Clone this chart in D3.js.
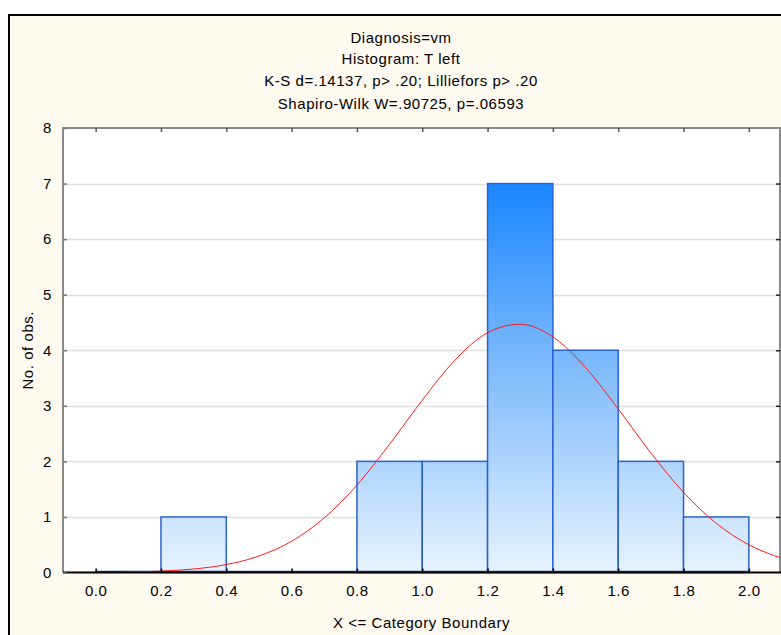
<!DOCTYPE html>
<html>
<head>
<meta charset="utf-8">
<script src="https://cdn.jsdelivr.net/npm/d3@7"></script>
<style>
  html, body { margin: 0; padding: 0; background: #ffffff; }
  svg { display: block; font-family: "Liberation Sans", Arial, sans-serif; }
  svg text { letter-spacing: 0.55px; }
</style>
</head>
<body>
<svg id="chart" width="781" height="635"></svg>
<script>
// Histogram bins (upper category boundaries) and counts
const binStarts = [0.0, 0.2, 0.4, 0.6, 0.8, 1.0, 1.2, 1.4, 1.6, 1.8];
const binWidth = 0.2;
const counts = [0, 1, 0, 0, 2, 2, 7, 4, 2, 1];

// Fitted normal curve, expected counts per bin
const curveX = [-0.1, 0.0, 0.1, 0.2, 0.3, 0.4, 0.5, 0.6, 0.7, 0.8, 0.9, 1.0, 1.1,
                1.2, 1.3, 1.4, 1.5, 1.6, 1.7, 1.8, 1.9, 2.0, 2.1];
const curveY = [0.001, 0.003, 0.009, 0.025, 0.063, 0.143, 0.296, 0.563, 0.983, 1.573,
                2.308, 3.101, 3.821, 4.315, 4.468, 4.241, 3.690, 2.944, 2.152, 1.443,
                0.886, 0.499, 0.257];

const xTicks = [0.0, 0.2, 0.4, 0.6, 0.8, 1.0, 1.2, 1.4, 1.6, 1.8, 2.0];
const yTicks = [0, 1, 2, 3, 4, 5, 6, 7, 8];

const titleLines = [
  "Diagnosis=vm",
  "Histogram: T left",
  "K-S d=.14137, p> .20; Lilliefors p> .20",
  "Shapiro-Wilk W=.90725, p=.06593"
];
const xLabel = "X <= Category Boundary";
const yLabel = "No. of obs.";

const svg = d3.select("#chart");
const W = 781, H = 635;
const plot = { left: 63, right: 780, top: 128, bottom: 572.5 };
const fontSize = 15;
const titleCenter = 401;

// Outer panel
svg.append("rect")
  .attr("x", 9).attr("y", 15)
  .attr("width", W + 20).attr("height", H + 20)
  .attr("fill", "#fefaf0")
  .attr("stroke", "#000").attr("stroke-width", 2);

const x = d3.scaleLinear().domain([-0.1, 2.1]).range([plot.left, plot.right + 1.5]);
const y = d3.scaleLinear().domain([0, 8]).range([plot.bottom, plot.top]);

// Plot area
svg.append("rect")
  .attr("x", plot.left).attr("y", plot.top)
  .attr("width", plot.right - plot.left).attr("height", plot.bottom - plot.top)
  .attr("fill", "#ffffff");

// Gradient shared by all bars
const defs = svg.append("defs");
const grad = defs.append("linearGradient")
  .attr("id", "barGrad")
  .attr("gradientUnits", "userSpaceOnUse")
  .attr("x1", 0).attr("x2", 0)
  .attr("y1", y(7)).attr("y2", y(0));
grad.append("stop").attr("offset", "0%").attr("stop-color", "#1a86ff");
grad.append("stop").attr("offset", "45%").attr("stop-color", "#7ab8fa");
grad.append("stop").attr("offset", "100%").attr("stop-color", "#e8f3fe");

// Horizontal grid lines
svg.append("g")
  .selectAll("line")
  .data(yTicks.filter(d => d > 0 && d < 8))
  .join("line")
  .attr("x1", plot.left).attr("x2", plot.right)
  .attr("y1", d => Math.round(y(d)) + 0.5).attr("y2", d => Math.round(y(d)) + 0.5)
  .attr("stroke", "#dedede").attr("stroke-width", 1.5);

// Bars
svg.append("g")
  .selectAll("rect")
  .data(binStarts.map((s, i) => ({ s, c: counts[i] })).filter(d => d.c > 0))
  .join("rect")
  .attr("x", d => x(d.s))
  .attr("y", d => y(d.c))
  .attr("width", d => x(d.s + binWidth) - x(d.s))
  .attr("height", d => y(0) - y(d.c))
  .attr("fill", "url(#barGrad)")
  .attr("stroke", "#2a62d4").attr("stroke-width", 1.5);

// Zero-count baseline across the binned range
svg.append("line")
  .attr("x1", x(binStarts[0])).attr("x2", x(binStarts[binStarts.length - 1] + binWidth))
  .attr("y1", plot.bottom - 1).attr("y2", plot.bottom - 1)
  .attr("stroke", "#1b3f9a").attr("stroke-width", 1.5);

// Fitted normal curve
const line = d3.line()
  .x((d, i) => x(curveX[i]))
  .y(d => y(d))
  .curve(d3.curveMonotoneX);
svg.append("path")
  .datum(curveY)
  .attr("d", line)
  .attr("fill", "none")
  .attr("stroke", "#ff1a1a").attr("stroke-width", 1);

// Frame: left, top, right gray, bottom black
svg.append("path")
  .attr("d", `M${plot.left},${plot.bottom}V${plot.top}H${plot.right}V${plot.bottom}`)
  .attr("fill", "none").attr("stroke", "#8a8a8a").attr("stroke-width", 2);
svg.append("line")
  .attr("x1", plot.left).attr("x2", plot.right + 1)
  .attr("y1", plot.bottom).attr("y2", plot.bottom)
  .attr("stroke", "#000").attr("stroke-width", 2);

// Axes with inward ticks
const fmtX = d3.format(".1f");
const axB = d3.axisBottom(x).tickValues(xTicks).tickSize(-4).tickPadding(13).tickFormat(fmtX);
const axT = d3.axisTop(x).tickValues(xTicks).tickSize(-4).tickFormat("");
const axL = d3.axisLeft(y).tickValues(yTicks).tickSize(-4).tickPadding(11).tickFormat(d3.format("d"));
const axR = d3.axisRight(y).tickValues(yTicks.filter(d => d > 0 && d < 8)).tickSize(-4).tickFormat("");

function styleAxis(g, color) {
  g.select(".domain").remove();
  g.selectAll(".tick line").attr("stroke", color).attr("stroke-width", 1.5);
  g.selectAll(".tick text").attr("fill", "#000").attr("font-size", fontSize);
}
svg.append("g").attr("transform", `translate(0,${plot.bottom})`).call(axB).call(g => styleAxis(g, "#000"));
svg.append("g").attr("transform", `translate(0,${plot.top})`).call(axT).call(g => styleAxis(g, "#555"));
svg.append("g").attr("transform", `translate(${plot.left},0)`).call(axL).call(g => styleAxis(g, "#777"));
svg.append("g").attr("transform", `translate(${plot.right},0)`).call(axR).call(g => styleAxis(g, "#222"));

// Titles
svg.append("g")
  .selectAll("text")
  .data(titleLines)
  .join("text")
  .attr("x", titleCenter)
  .attr("y", (d, i) => [43, 64, 86, 109][i])
  .attr("text-anchor", "middle")
  .attr("font-size", fontSize)
  .attr("fill", "#000")
  .text(d => d);

// Axis titles
svg.append("text")
  .attr("x", (plot.left + plot.right) / 2)
  .attr("y", 628)
  .attr("text-anchor", "middle")
  .attr("font-size", fontSize)
  .text(xLabel);
svg.append("text")
  .attr("transform", `translate(33,${(plot.top + plot.bottom) / 2}) rotate(-90)`)
  .attr("text-anchor", "middle")
  .attr("font-size", fontSize)
  .text(yLabel);
</script>
</body>
</html>
